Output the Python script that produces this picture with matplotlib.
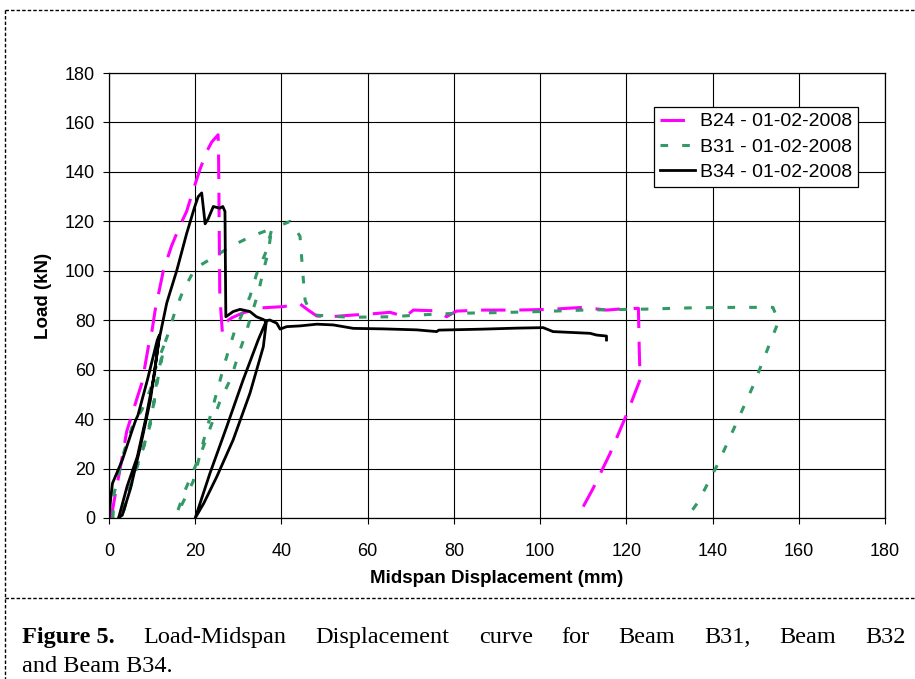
import matplotlib.pyplot as plt
from matplotlib.lines import Line2D

# ---- data ----
b24_x = [0.5, 1.5, 2.8, 4.1, 5.0, 6.6, 7.7, 8.5, 9.3, 10.0, 10.7, 12.6, 14.5, 16.4, 18.0,
         19.6, 21.1, 22.6, 23.8, 25.3, 25.4, 25.7, 26.3, 26.9, 28.5, 31.1, 35.4, 40.4, 44.3,
         46.2, 48.2, 51.3, 56.6, 60.5, 65.2, 68.7, 70.6, 76.0, 78.3, 80.6, 86.8, 94.5,
         102.3, 110.0, 115.4, 119.0, 122.8, 123.0, 123.2, 120.1, 116.2, 112.3, 110.0]
b24_y = [0, 10, 22, 35, 40, 49, 55, 63, 71, 76, 84, 100, 110, 118, 124,
         133, 141, 148, 152, 155, 150, 90, 75, 79, 81, 83, 85, 85.5, 86.6,
         84.1, 81.7, 81.4, 82.1, 82.5, 83.2, 81.4, 84.1, 83.8, 81.4, 83.7, 84.1, 84.1,
         84.4, 85.2, 84.1, 84.6, 84.8, 68, 56, 42, 26, 12, 4.6]

b31_x = [0.9, 1.2, 3.5, 5.4, 7.7, 9.6, 11.2, 12.8, 11.2, 10.4, 9.6, 8.1, 6.2, 4.2, 3.0,
         4.5, 6.5, 8.4, 10.0, 11.5, 13.0, 13.9, 15.3, 17.2, 20.0, 23.8, 28.4, 33.1, 37.7,
         37.0, 35.8, 34.6, 31.6, 30.0, 28.4, 25.7, 21.5, 17.6, 16.0, 15.8,
         19.5, 21.9, 24.2, 26.9, 29.2, 32.7, 34.2, 36.5, 37.7, 40.0, 42.0, 44.3, 44.7,
         45.1, 45.5, 46.6, 48.2, 55.9, 65.9, 71.4, 80.6, 90.7, 100.0, 110.0, 124.7, 135.0,
         145.0, 154.0, 155.3, 153.3, 149.5, 145.5, 141.3, 136.7, 134.0]
b31_y = [0, 10, 27, 37, 44, 52, 63, 70, 57, 47, 38, 29, 19, 9, 0,
         10, 21, 31, 42, 58, 71, 75.4, 83.5, 92, 101, 105, 110, 114, 117,
         108, 100, 91, 74, 66, 57, 47, 27, 11, 3.2, 1.5,
         14.7, 31, 45.7, 63, 76, 89.6, 98.5, 108, 116.5, 118.5, 120, 114, 105,
         96, 88, 83.5, 82, 81.2, 81.4, 82.1, 82.8, 83.1, 83.5, 84.1, 84.5, 85,
         85.2, 85.2, 79.5, 70.7, 53.8, 38.3, 22.1, 6.6, 0]

b34_x = [0, 0.4, 0.8, 3.1, 5.4, 6.2, 6.7, 8.9, 11.2, 11.7, 10.4, 8.5, 6.6, 4.2, 2.3, 2.2,
         3.1, 5.0, 7.3, 9.6, 11.6, 13.4, 15.7, 18.0, 19.9, 20.7, 21.5, 22.3, 23.0, 24.2, 25.7,
         26.4, 26.9, 27.1, 28.8, 30.4, 32.7, 34.2, 35.8, 36.5, 35.8, 32.7, 28.8, 25.0,
         22.0, 20.0, 23.4, 27.3, 31.1, 34.6, 36.5, 37.3, 38.9, 39.7, 41.2, 44.3, 48.2,
         52.0, 56.7, 63.6, 71.4, 76.0, 76.5, 86.8, 94.5, 100.7, 103.0, 111.6, 113.1,
         115.4, 115.4]
b34_y = [0, 8, 14, 23.5, 35.6, 39.6, 41.5, 55.8, 72, 74, 57, 40, 25, 12.8, 0.5, 0,
         1.2, 12, 29, 47.7, 72, 87, 100, 115, 126, 130, 131.5, 119, 121, 126, 125.3,
         126, 124, 81.4, 83.5, 84.4, 83.5, 81.4, 80.3, 79.5, 69.3, 50.5, 31.6, 16.7,
         6, 0, 18, 36.9, 55.8, 72, 79.8, 80.1, 78.8, 76.4, 77.4, 77.7, 78.4,
         78.1, 76.7, 76.5, 76.1, 75.4, 76, 76.4, 76.8, 77, 75.4, 74.7, 74,
         73.6, 72]

labels = ['B24 - 01-02-2008', 'B31 - 01-02-2008', 'B34 - 01-02-2008']
x_ticks = list(range(0, 181, 20))
y_ticks = list(range(0, 181, 20))

plt.rcParams['font.family'] = ['Liberation Sans', 'DejaVu Sans']

fig = plt.figure(figsize=(9.15, 6.79), dpi=100)
ax = fig.add_axes([109 / 915, 1 - 518 / 679, 776 / 915, 445 / 679])

ax.plot(b24_x, b24_y, color='#ff00ff', lw=2.2, dashes=(8, 4.5), label=labels[0])
ax.plot(b31_x, b31_y, color='#339966', lw=2.2, dashes=(2.5, 4.6), label=labels[1])
ax.plot(b34_x, b34_y, color='black', lw=2.0, label=labels[2])

ax.set_xlim(0, 180)
ax.set_ylim(0, 180)
ax.set_xticks(x_ticks)
ax.set_yticks(y_ticks)
ax.grid(True, color='black', lw=0.8)
ax.set_axisbelow(True)
for s in ax.spines.values():
    s.set_linewidth(0.9)
ax.tick_params(direction='out', length=4, width=0.8, labelsize=13)
ax.tick_params(axis='x', pad=14)
ax.tick_params(axis='y', pad=6)
ax.set_xlabel('Midspan Displacement (mm)', fontsize=13.5, fontweight='bold', labelpad=7)
ax.set_ylabel('Load (kN)', fontsize=13.5, fontweight='bold', labelpad=9)

leg = ax.legend(loc='upper left', bbox_to_anchor=(545 / 776, 411 / 445), borderaxespad=0,
                fontsize=14, fancybox=False, edgecolor='black', framealpha=1,
                handlelength=1.8, handletextpad=0.25, labelspacing=0.4,
                borderpad=0.3)
leg.get_frame().set_linewidth(0.9)

# dashed page border and caption separator
def hline(y, x0=5, x1=915):
    fig.add_artist(Line2D([x0 / 915, x1 / 915], [1 - y / 679, 1 - y / 679],
                          color='black', lw=1, dashes=(2.5, 1.5)))

hline(10)
hline(598)
fig.add_artist(Line2D([5 / 915, 5 / 915], [1 - 10 / 679, 0], color='black', lw=1,
                      dashes=(2.5, 1.5)))

# caption, first line justified
serif = ['Liberation Serif', 'DejaVu Serif']
line1 = ['Figure 5.', 'Load-Midspan', 'Displacement', 'curve', 'for', 'Beam', 'B31,',
         'Beam', 'B32']
fs = 17.5
renderer = fig.canvas.get_renderer()
words = []
for i, w in enumerate(line1):
    t = fig.text(0, 1 - 643 / 679, w, fontsize=fs, family=serif,
                 fontweight='bold' if i == 0 else 'normal', va='baseline')
    words.append(t)
widths = [t.get_window_extent(renderer).width for t in words]
left, right = 22, 906
gap = (right - left - sum(widths)) / (len(words) - 1)
x = left
for t, w in zip(words, widths):
    t.set_x(x / 915)
    x += w + gap
fig.text(22 / 915, 1 - 672 / 679, 'and Beam B34.', fontsize=fs, family=serif,
         va='baseline')

fig.savefig('out.png', dpi=100)
